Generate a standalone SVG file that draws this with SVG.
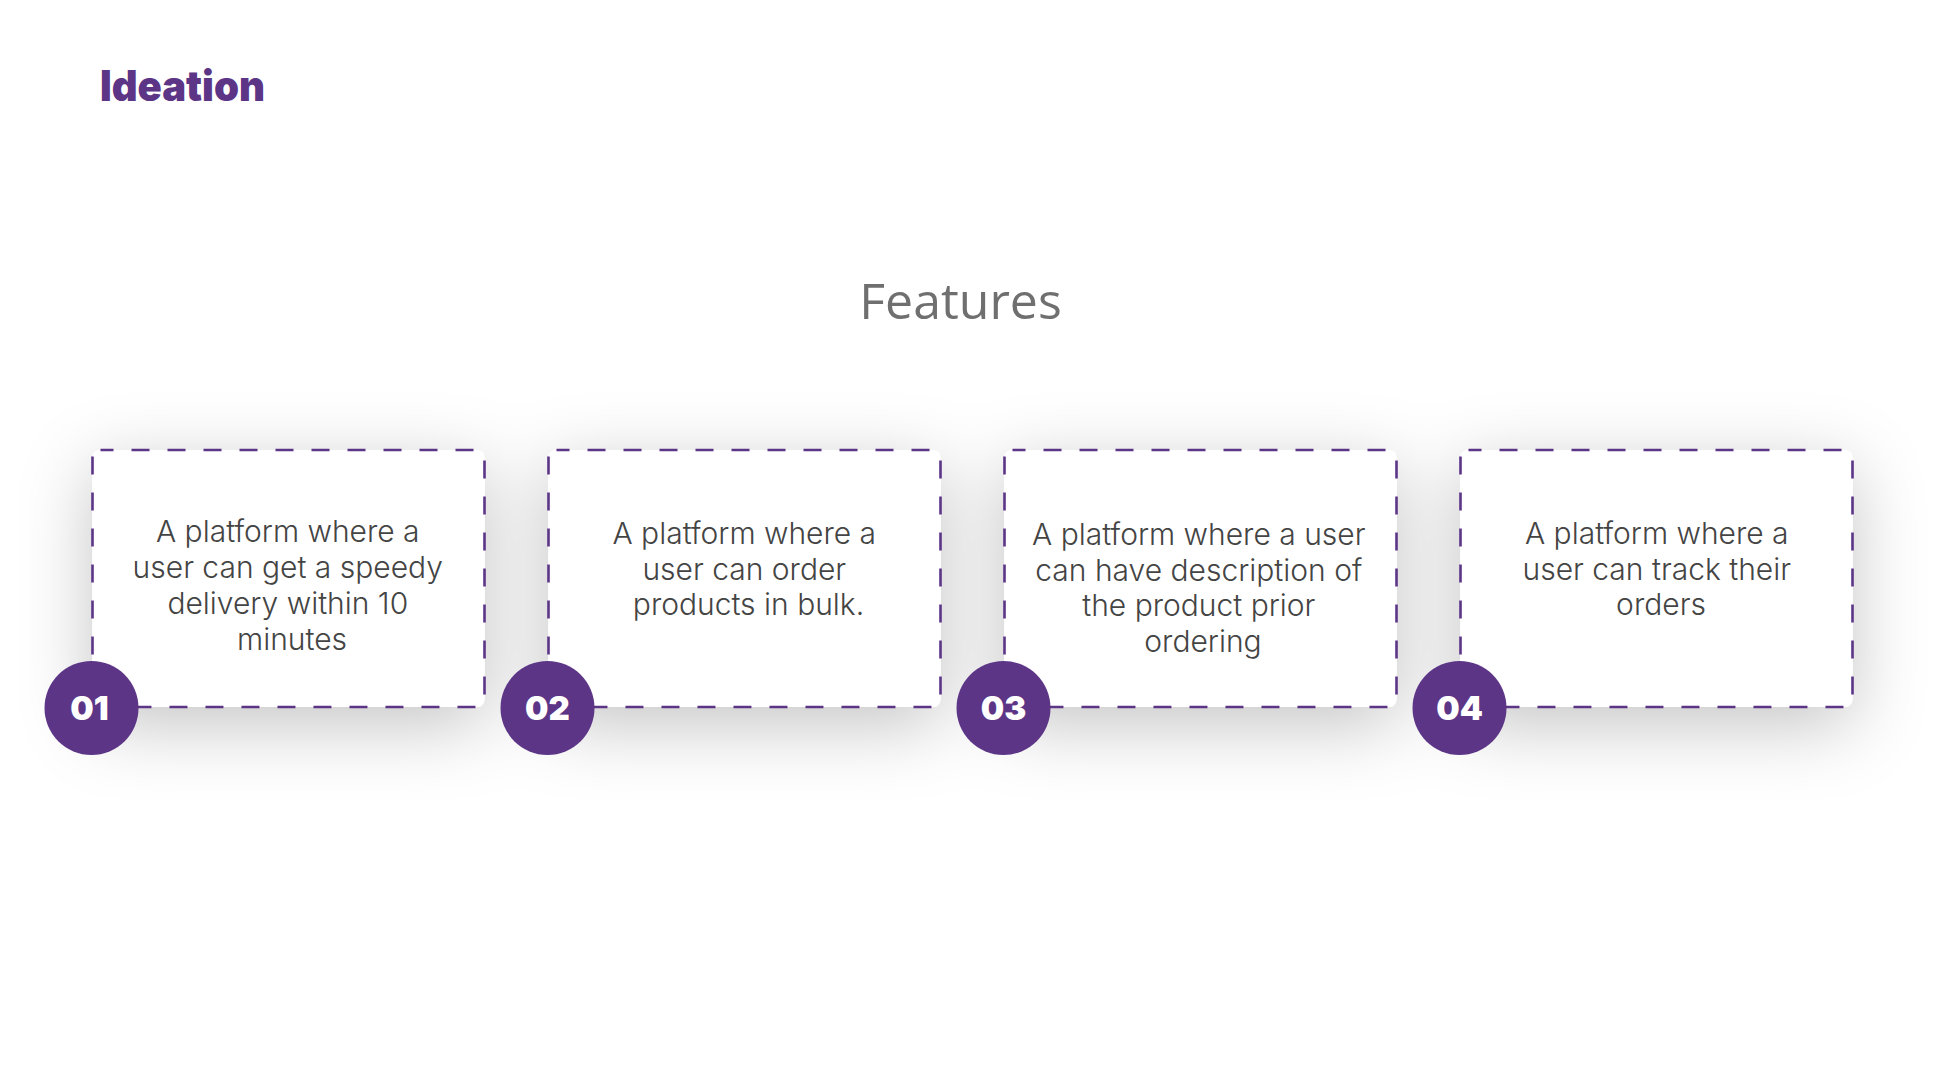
<svg xmlns="http://www.w3.org/2000/svg" width="1949" height="1080" viewBox="0 0 1949 1080">
  <defs>
    <filter id="shadow" x="-30%" y="-60%" width="160%" height="220%">
      <feDropShadow dx="0" dy="18" stdDeviation="36" flood-color="#000000" flood-opacity="0.23"/>
    </filter>
    <style>
      .card { fill: #ffffff; stroke: #5c3587; stroke-width: 2.6; stroke-dasharray: 18 18; stroke-dashoffset: 5; }
      .badge { fill: #5c3587; }
      .num { font-family: Inter, "Liberation Sans", sans-serif; font-weight: 900; font-size: 33px; fill: #ffffff; text-anchor: middle; }
      .body { font-family: Inter, "Liberation Sans", sans-serif; font-weight: 300; font-size: 30px; fill: #444444; text-anchor: middle; }
      .title { font-family: Inter, "Liberation Sans", sans-serif; font-weight: 900; font-size: 42px; fill: #5c3587; }
      .heading { font-family: "Open Sans", "Noto Sans", sans-serif; font-size: 50px; fill: #6f6f6f; text-anchor: middle; }
    </style>
  </defs>
  <rect x="0" y="0" width="1949" height="1080" fill="#ffffff"/>

  <text id="title" class="title" x="100" y="101" textLength="165" lengthAdjust="spacingAndGlyphs">Ideation</text>
  <text id="heading" class="heading" x="960.5" y="319">Features</text>

  <g id="shadows" filter="url(#shadow)">
    <rect x="92.5" y="450" width="392" height="257" rx="8" fill="#ffffff"/>
    <rect x="548.5" y="450" width="392" height="257" rx="8" fill="#ffffff"/>
    <rect x="1004.5" y="450" width="392" height="257" rx="8" fill="#ffffff"/>
    <rect x="1460.5" y="450" width="392" height="257" rx="8" fill="#ffffff"/>
  </g>

  <g id="connectors"/>

  <g id="card-1">
    <rect class="card" x="92.5" y="450" width="392" height="257" rx="8"/>
    <text class="body" x="292">
      <tspan x="292" y="542">A platform where a</tspan>
      <tspan x="292" y="578">user can get a speedy</tspan>
      <tspan x="292" y="614">delivery within 10</tspan>
      <tspan x="292" y="650">minutes</tspan>
    </text>
    <circle class="badge" cx="91.5" cy="708" r="47"/>
    <text class="num" x="89.5" y="720">01</text>
  </g>

  <g id="card-2">
    <rect class="card" x="548.5" y="450" width="392" height="257" rx="8"/>
    <text class="body" x="748.5">
      <tspan x="748.5" y="544">A platform where a</tspan>
      <tspan x="748.5" y="580">user can order</tspan>
      <tspan x="748.5" y="615">products in bulk.</tspan>
    </text>
    <circle class="badge" cx="547.5" cy="708" r="47"/>
    <text class="num" x="547.5" y="720">02</text>
  </g>

  <g id="card-3">
    <rect class="card" x="1004.5" y="450" width="392" height="257" rx="8"/>
    <text class="body" x="1203">
      <tspan x="1203" y="545">A platform where a user</tspan>
      <tspan x="1203" y="581">can have description of</tspan>
      <tspan x="1203" y="616">the product prior</tspan>
      <tspan x="1203" y="652">ordering</tspan>
    </text>
    <circle class="badge" cx="1003.5" cy="708" r="47"/>
    <text class="num" x="1003.5" y="720">03</text>
  </g>

  <g id="card-4">
    <rect class="card" x="1460.5" y="450" width="392" height="257" rx="8"/>
    <text class="body" x="1661">
      <tspan x="1661" y="544">A platform where a</tspan>
      <tspan x="1661" y="580">user can track their</tspan>
      <tspan x="1661" y="615">orders</tspan>
    </text>
    <circle class="badge" cx="1459.5" cy="708" r="47"/>
    <text class="num" x="1459.5" y="720">04</text>
  </g>
</svg>
